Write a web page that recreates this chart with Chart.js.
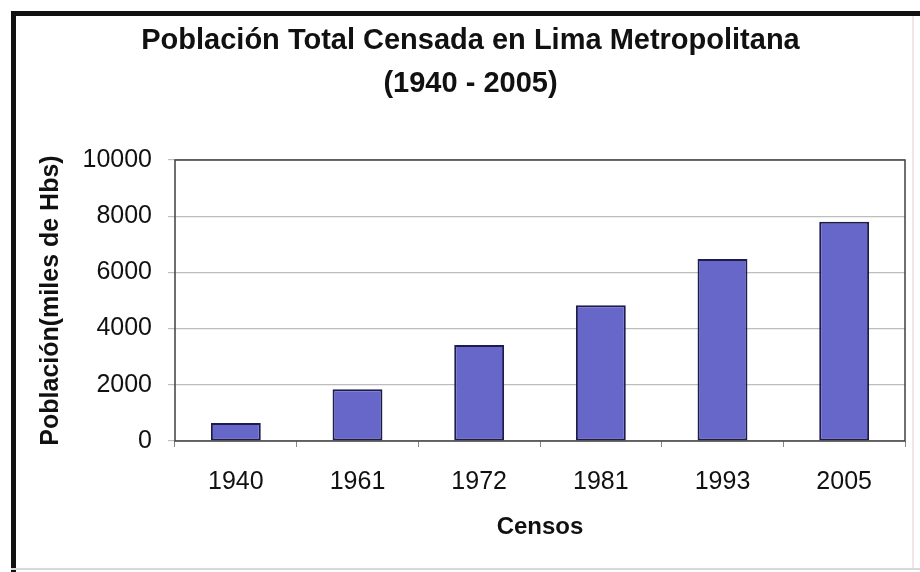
<!DOCTYPE html>
<html>
<head>
<meta charset="utf-8">
<script src="https://cdn.jsdelivr.net/npm/chart.js@4/dist/chart.umd.min.js"></script>
<style>
  html, body { margin: 0; padding: 0; background: #fff; }
  #wrap { width: 920px; height: 572px; }
</style>
</head>
<body>
<div id="wrap"><canvas id="chart" width="920" height="572"></canvas></div>
<script>
// censos de Lima Metropolitana (miles de habitantes)
const censos = ['1940', '1961', '1972', '1981', '1993', '2005'];
const poblacion = [645, 1846, 3418, 4830, 6478, 7800];
const titulo = ['Población Total Censada en Lima Metropolitana', '(1940 - 2005)'];
const tituloY = 'Población(miles de Hbs)';
const tituloX = 'Censos';

const fontFamily = '"Liberation Sans", Arial, sans-serif';

// marco exterior y borde del area de trazado
const marco = {
  id: 'marco',
  beforeDraw(chart) {
    const ctx = chart.ctx;
    ctx.save();
    ctx.fillStyle = '#fff';
    ctx.fillRect(0, 0, chart.width, chart.height);
    ctx.fillStyle = '#111';
    ctx.fillRect(11, 11, chart.width - 11, 5);
    ctx.fillRect(11, 11, 5, chart.height - 11);
    ctx.fillStyle = '#d8d8d8';
    ctx.fillRect(11, chart.height - 4, chart.width - 11, 2);
    ctx.fillStyle = '#f0e6e6';
    ctx.fillRect(912, 16, 2, chart.height - 20);
    ctx.restore();
  },
  afterDatasetsDraw(chart) {
    const a = chart.chartArea;
    const ctx = chart.ctx;
    ctx.save();
    ctx.strokeStyle = '#404040';
    ctx.lineWidth = 1.5;
    ctx.strokeRect(a.left, a.top, a.right - a.left, a.bottom - a.top);
    ctx.restore();
  }
};

new Chart(document.getElementById('chart'), {
  type: 'bar',
  data: {
    labels: censos,
    datasets: [{
      data: poblacion,
      backgroundColor: '#6767c9',
      borderColor: '#1c1c4e',
      borderWidth: 2,
      borderSkipped: false,
      categoryPercentage: 1,
      barPercentage: 0.41
    }]
  },
  options: {
    responsive: false,
    animation: false,
    layout: { padding: { left: 36, right: 15, top: 0, bottom: 20 } },
    plugins: {
      legend: { display: false },
      tooltip: { enabled: false },
      title: {
        display: true,
        text: titulo,
        color: '#111',
        font: { family: fontFamily, size: 29, weight: 'bold', lineHeight: 1.5 },
        padding: { top: 19, bottom: 54 }
      }
    },
    scales: {
      x: {
        grid: { display: true, drawOnChartArea: false, drawTicks: true, tickLength: 6, color: '#888', offset: true },
        border: { display: false },
        ticks: { color: '#111', padding: 20, font: { family: fontFamily, size: 25 } },
        title: {
          display: true, text: tituloX, color: '#111',
          font: { family: fontFamily, size: 24, weight: 'bold' },
          padding: { top: 0, bottom: 10 }
        },
        afterFit(scale) { scale.height = 111; }
      },
      y: {
        min: 0, max: 10000,
        grid: { color: '#bdbdbd', lineWidth: 1.2, tickLength: 7, drawTicks: true },
        border: { display: false },
        ticks: {
          stepSize: 2000, color: '#111', padding: 16,
          font: { family: fontFamily, size: 25 },
          callback: (v) => String(v)
        },
        title: {
          display: true, text: tituloY, color: '#111',
          font: { family: fontFamily, size: 25, weight: 'bold' },
          padding: { top: 0, bottom: 0 }
        },
        afterFit(scale) { scale.width = 139; }
      }
    }
  },
  plugins: [marco]
});
</script>
</body>
</html>
